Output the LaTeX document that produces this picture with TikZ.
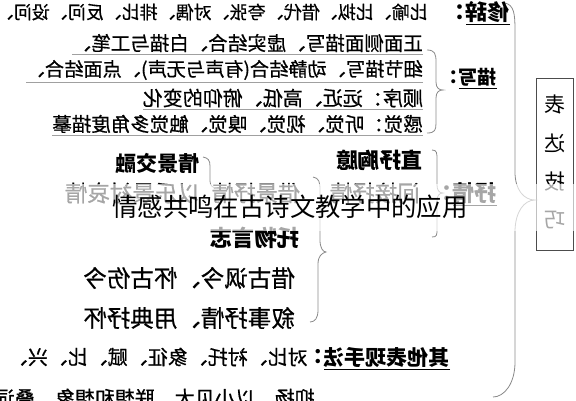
\documentclass[tikz,border=0pt]{standalone}
\usepackage{fontspec}
\newfontfamily\cjk[FakeBold=0.6]{Noto Sans CJK SC}
\newfontfamily\cjkt{Noto Sans CJK SC}
\newcommand\myfs[1]{\fontsize{#1pt}{#1pt}\selectfont}
\definecolor{brc}{HTML}{8A8A8A}
\definecolor{ulg}{HTML}{A0A0A0}
\begin{document}
\begin{tikzpicture}[x=1pt,y=-1pt,
  txt/.style={inner sep=0pt, anchor=west, font=\cjk\myfs{#1}},
  txt/.default=19.5,
  lab/.style={inner sep=0pt, anchor=west, font=\cjkt\bfseries\myfs{#1}},
  lab/.default=21,
  brace/.style={draw=brc, line width=0.8pt},
  uline/.style={draw=ulg, line width=0.7pt},
  ulab/.style={draw=black, line width=0.9pt}]
\useasboundingbox (0,0) rectangle (576,400);
\clip (0,0) rectangle (576,400);
\begin{scope}[xshift=576pt, xscale=-1, transform shape]
  % box
  \node[draw=black!70, line width=0.8pt, minimum width=37pt, minimum height=172pt, inner sep=0pt] (box) at (21.5,164) {};
  \node[inner sep=0pt, font=\cjkt\myfs{21}] (c1) at (21.5,105) {表};
  \node[inner sep=0pt, font=\cjkt\myfs{21}] (c2) at (21.5,143) {达};
  \node[inner sep=0pt, font=\cjkt\myfs{21}] (c3) at (21.5,182) {技};
  \node[inner sep=0pt, font=\cjkt\myfs{21}] (c4) at (21.5,220) {巧};
  % big brace
  \draw[brace] (71,3) .. controls (62,5) and (61,14) .. (61,30) -- (61,172)
     .. controls (61,190) and (52,200) .. (41,200)
     .. controls (52,200) and (61,212) .. (61,232) -- (61,362)
     .. controls (61,384) and (72,397) .. (83,397);
  % xiuci
  \node[lab=22] (xiuci) at (66,12) {修辞};
  \node[lab=22] (xiucic) at (xiuci.east) {：};
  \draw[ulab] ([yshift=-2pt]xiuci.south west) -- ([yshift=-2pt]xiuci.south east);
  \node[txt=18] (xclist) at (148,12) {比喻、比拟、借代、夸张、对偶、排比、反问、设问、};
  % miaoxie
  \node[lab=19] (mx) at (79,77) {描写};
  \node[lab=19] (mxc) at (mx.east) {：};
  \draw[ulab] ([yshift=-2pt]mx.south west) -- ([yshift=-2pt]mx.south east);
  \draw[brace] (149,50) .. controls (141,50) and (140,54) .. (140,62) -- (140,82)
     .. controls (140,88) and (137,90) .. (133,90)
     .. controls (137,90) and (140,92) .. (140,98) -- (140,123)
     .. controls (140,130) and (141,133) .. (149,133);
  \node[txt] (r2) at (153,43) {正面侧面描写、虚实结合、白描与工笔、};
  \node[txt=19.2] (r3) at (153,70) {细节描写、动静结合(有声与无声)、点面结合、};
  \node[txt=20] (r4) at (153,98) {顺序：远近、高低、俯仰的变化};
  \node[txt] (r5) at (153,124) {感觉：听觉、视觉、嗅觉、触觉多角度描摹};
  \foreach \r in {r2,r3,r4,r5}{
    \draw[uline] ([yshift=-2pt]\r.south west) -- ([yshift=-2pt]\r.south east);
  }
  % shuqing
  \node[lab=22] (sq) at (79,193) {抒情};
  \node[lab=22] (sqc) at (sq.east) {：};
  \draw[ulab] ([yshift=-2pt]sq.south west) -- ([yshift=-2pt]sq.south east);
  \draw[brace] (144,150) .. controls (139,150) and (139,153) .. (139,160) -- (139,185)
     .. controls (139,190) and (137,193) .. (133,193)
     .. controls (137,193) and (139,196) .. (139,201) -- (139,229)
     .. controls (139,235) and (139,237) .. (144,237);
  \node[lab=21.5] (zs) at (153,160) {直抒胸臆};
  \node[txt=22.5] (jj) at (156,193) {间接抒情};
  \draw[brace] (263,177) .. controls (257,178) and (256,182) .. (256,190) -- (256,240)
     .. controls (256,248) and (253,252) .. (250,252)
     .. controls (254,253) and (258,256) .. (258,264) -- (258,310)
     .. controls (258,318) and (261,322) .. (266,322);
  \node[txt=22] (jjsq) at (276,193) {借景抒情};
  \node[lab=21] (qjjr) at (376,163) {情景交融};
  \draw[brace] (373,157) .. controls (368,158) and (366,160) .. (366,166) -- (366,181)
     .. controls (366,186) and (363,188) .. (359,188);
  \node[txt=22.5] (yl) at (376,193) {以乐景衬哀情};
  \node[lab=22.5] (tw) at (276,238) {托物言志};
  \node[txt=23.5] (jg) at (281,278) {借古讽今、怀古伤今};
  \node[txt=23.5] (xs) at (281,318) {叙事抒情、用典抒怀};
  % qita
  \node[lab=21] (qt) at (126,357) {其他表现手法};
  \node[lab=21] (qtc) at (qt.east) {：};
  \draw[ulab] ([yshift=-2pt]qt.south west) -- ([yshift=-2pt]qt.south east);
  \node[txt=20] (qtl) at (268,357) {对比、衬托、象征、赋、比、兴、};
  \node[txt=20] (qtl2) at (261,398) {抑扬、以小见大、联想和想象、叠词};
\end{scope}
\fill[white, opacity=0.65] (0,184) rectangle (576,231);
\node[inner sep=0pt, font=\cjkt\myfs{25.4}] (title) at (290,207) {情感共鸣在古诗文教学中的应用};
\end{tikzpicture}
\end{document}
